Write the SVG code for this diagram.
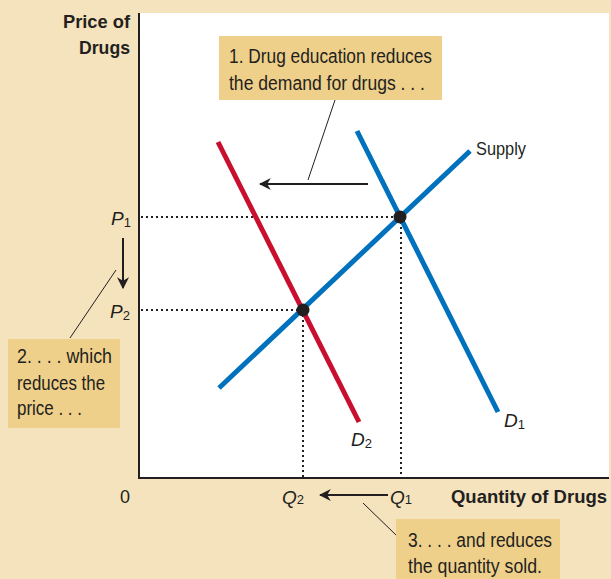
<svg xmlns="http://www.w3.org/2000/svg" width="611" height="579" viewBox="0 0 611 579">
<style>
.t{font-family:"Liberation Sans",Arial,sans-serif;font-size:20px;fill:#231f20}
.b{font-family:"Liberation Sans",Arial,sans-serif;font-size:19px;font-weight:bold;fill:#231f20}
.l{font-family:"Liberation Sans",Arial,sans-serif;font-size:19px;fill:#231f20}
.i{font-style:italic}
.s{font-style:normal;font-size:13px}
.box{fill:#efd08a}
.dot{stroke:#231f20;stroke-width:2;stroke-dasharray:2 3;fill:none}
.lead{stroke:#231f20;stroke-width:1;fill:none}
.arr{stroke:#231f20;stroke-width:2;fill:none}
</style>
<defs>
<marker id="ah" viewBox="0 0 10 10" refX="9" refY="5" markerWidth="6" markerHeight="6" orient="auto-start-reverse" markerUnits="strokeWidth">
<path d="M0,0 L10,5 L0,10 L3,5 z" fill="#231f20"/>
</marker>
</defs>
<rect x="0" y="0" width="611" height="579" fill="#f5e3bd"/>
<rect x="139" y="13" width="470" height="465" fill="#ffffff"/>
<g id="axes">
<line x1="139" y1="13" x2="139" y2="478" stroke="#231f20" stroke-width="2"/>
<line x1="138" y1="478" x2="609" y2="478" stroke="#231f20" stroke-width="2"/>
<text class="b" x="130" y="28" text-anchor="end" textLength="67" lengthAdjust="spacingAndGlyphs">Price of</text>
<text class="b" x="130" y="54" text-anchor="end" textLength="51" lengthAdjust="spacingAndGlyphs">Drugs</text>
<text class="b" x="451" y="503" textLength="156" lengthAdjust="spacingAndGlyphs">Quantity of Drugs</text>
<text class="l" x="120" y="503" textLength="10" lengthAdjust="spacingAndGlyphs">0</text>
</g>
<g id="connectors">
<line class="dot" x1="141" y1="217" x2="400" y2="217"/>
<line class="dot" x1="141" y1="310" x2="303" y2="310"/>
<line class="dot" x1="303" y1="310" x2="303" y2="477"/>
<line class="dot" x1="401" y1="217" x2="401" y2="477"/>
<line class="arr" x1="368" y1="184" x2="260" y2="184" marker-end="url(#ah)"/>
<line class="arr" x1="123" y1="238" x2="123" y2="288" marker-end="url(#ah)"/>
<line class="arr" x1="388" y1="495" x2="320" y2="495" marker-end="url(#ah)"/>
<line class="lead" x1="335" y1="100" x2="308" y2="180"/>
<line class="lead" x1="70" y1="338" x2="116" y2="270"/>
<line class="lead" x1="363" y1="503" x2="396" y2="535"/>
</g>
<g id="supply">
<line x1="219" y1="388" x2="470" y2="151" stroke="#0071bc" stroke-width="5"/>
<text class="l" x="476" y="155" textLength="50" lengthAdjust="spacingAndGlyphs">Supply</text>
</g>
<g id="demand1">
<line x1="357" y1="131" x2="498" y2="412" stroke="#0071bc" stroke-width="5"/>
<text class="l i" x="504" y="427">D<tspan class="s" dy="2">1</tspan></text>
</g>
<g id="demand2">
<line x1="218" y1="142" x2="359" y2="422" stroke="#c8102e" stroke-width="5"/>
<text class="l i" x="351" y="446">D<tspan class="s" dy="2">2</tspan></text>
</g>
<g id="eq1"><circle cx="400" cy="217" r="6.5" fill="#231f20"/></g>
<g id="eq2"><circle cx="303" cy="310" r="6.5" fill="#231f20"/></g>
<g id="labels">
<text class="l i" x="111" y="225">P<tspan class="s" dy="2">1</tspan></text>
<text class="l i" x="110" y="318">P<tspan class="s" dy="2">2</tspan></text>
<text class="l i" x="282" y="504">Q<tspan class="s" dy="0">2</tspan></text>
<text class="l i" x="390" y="504">Q<tspan class="s" dy="0">1</tspan></text>
</g>
<g id="note1">
<rect class="box" x="219" y="36" width="223" height="64"/>
<text class="t" x="229" y="63" textLength="203" lengthAdjust="spacingAndGlyphs">1. Drug education reduces</text>
<text class="t" x="229" y="90" textLength="196" lengthAdjust="spacingAndGlyphs">the demand for drugs . . .</text>
</g>
<g id="note2">
<rect class="box" x="8" y="339" width="112" height="89"/>
<text class="t" x="17" y="363" textLength="95" lengthAdjust="spacingAndGlyphs">2. . . . which</text>
<text class="t" x="17" y="390" textLength="88" lengthAdjust="spacingAndGlyphs">reduces the</text>
<text class="t" x="17" y="415" textLength="65" lengthAdjust="spacingAndGlyphs">price . . .</text>
</g>
<g id="note3">
<rect class="box" x="396" y="519" width="164" height="60"/>
<text class="t" x="408" y="547" textLength="144" lengthAdjust="spacingAndGlyphs">3. . . . and reduces</text>
<text class="t" x="408" y="573" textLength="134" lengthAdjust="spacingAndGlyphs">the quantity sold.</text>
</g>
</svg>
